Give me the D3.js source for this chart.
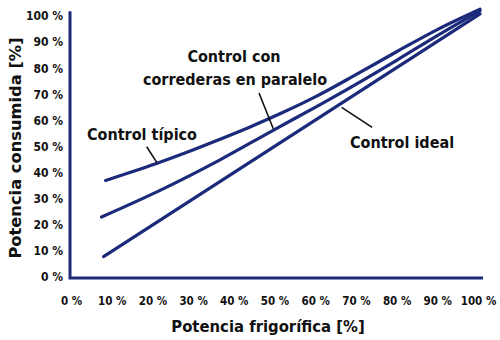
<!DOCTYPE html>
<html><head><meta charset="utf-8">
<script src="https://cdn.jsdelivr.net/npm/d3@7"></script>
<style>
body{margin:0;background:#fff;}
text{font-family:"DejaVu Sans Condensed","DejaVu Sans",sans-serif;font-weight:bold;fill:#111;}
</style></head><body>
<svg id="c" width="500" height="340"></svg>
<script>
const tickValues = [0,10,20,30,40,50,60,70,80,90,100];
const tickLabels = tickValues.map(v => v + " %");
const xTipico   = [8.5, 15, 21, 28, 36, 44, 52, 60, 70, 80, 90, 100.5];
const yTipico   = [37, 40.3, 43.5, 47.5, 52.4, 57.5, 63, 69, 77.5, 86.3, 94.8, 102.6];
const xParalelo = [7.5, 22, 36.5, 50, 60, 70, 80, 90, 100.5];
const yParalelo = [23, 33.3, 44.8, 56.5, 65, 73.8, 83, 92.5, 102];
const xIdeal    = [8, 100.5];
const yIdeal    = [7.8, 100.8];
const seriesNames = ["Control típico", "Control con correderas en paralelo", "Control ideal"];

const svg = d3.select("#c");
const x = d3.scaleLinear().domain([0,100]).range([71,478]);
const y = d3.scaleLinear().domain([0,100]).range([277,16]);
const navy = "#1b2a7a";

const ya = svg.append("g").attr("transform","translate(63,0)")
  .call(d3.axisLeft(y).tickValues(tickValues).tickFormat((d,i)=>tickLabels[i]).tickSize(0).tickPadding(0));
ya.select(".domain").remove();
ya.selectAll("text").style("font-size","12px").style("font-family",'"DejaVu Sans Condensed",sans-serif').attr("fill","#111");

const xa = svg.append("g").attr("transform","translate(0,297)")
  .call(d3.axisBottom(x).tickValues(tickValues).tickFormat((d,i)=>tickLabels[i]).tickSize(0).tickPadding(0));
xa.select(".domain").remove();
xa.selectAll("text").style("font-size","11.5px").style("font-family",'"DejaVu Sans Condensed",sans-serif').attr("fill","#111");

svg.append("path").attr("fill","none").attr("stroke",navy).attr("stroke-width",3)
  .attr("d", d3.line()([[x(0)-1, y(101.8)],[x(0)-1, y(-0.4)],[x(101)+1, y(-0.4)]]));

const line = d3.line().x(d=>x(d[0])).y(d=>y(d[1])).curve(d3.curveMonotoneX);
const series = [
  d3.zip(xTipico, yTipico),
  d3.zip(xParalelo, yParalelo),
  d3.zip(xIdeal, yIdeal)
];
svg.selectAll("path.s").data(series).join("path").attr("class","s")
  .attr("fill","none").attr("stroke",navy).attr("stroke-width",3.2).attr("stroke-linecap","round")
  .attr("d", line);

const fs = "16px";
function label(t, cx, cy){
  svg.append("text").attr("x",cx).attr("y",cy).attr("text-anchor","middle")
    .attr("dominant-baseline","middle").style("font-size",fs).text(t);
}
label("Control típico", 142, 135);
label("Control con", 234, 57);
label("correderas en paralelo", 235, 80);
label("Control ideal", 402, 143);
const leaders = [
  [[x(18.6), y(49.9)],[x(21.1), y(43.8)]],
  [[x(46.2), y(70.5)],[x(49.7), y(56.8)]],
  [[x(66.5), y(65)],[x(74), y(57.3)]]
];
svg.selectAll("path.l").data(leaders).join("path").attr("class","l")
  .attr("stroke","#111").attr("stroke-width",1.6).attr("d", d=>d3.line()(d));

svg.append("text").attr("x",268).attr("y",327).attr("text-anchor","middle")
  .attr("dominant-baseline","middle").style("font-size","16.5px").style("font-family",'"DejaVu Sans Condensed",sans-serif').text("Potencia frigorífica [%]");
svg.append("text").attr("transform","translate(16,148) rotate(-90)").attr("text-anchor","middle")
  .attr("dominant-baseline","middle").style("font-size","16.3px").style("font-family",'"DejaVu Sans",sans-serif').text("Potencia consumida [%]");
</script></body></html>
